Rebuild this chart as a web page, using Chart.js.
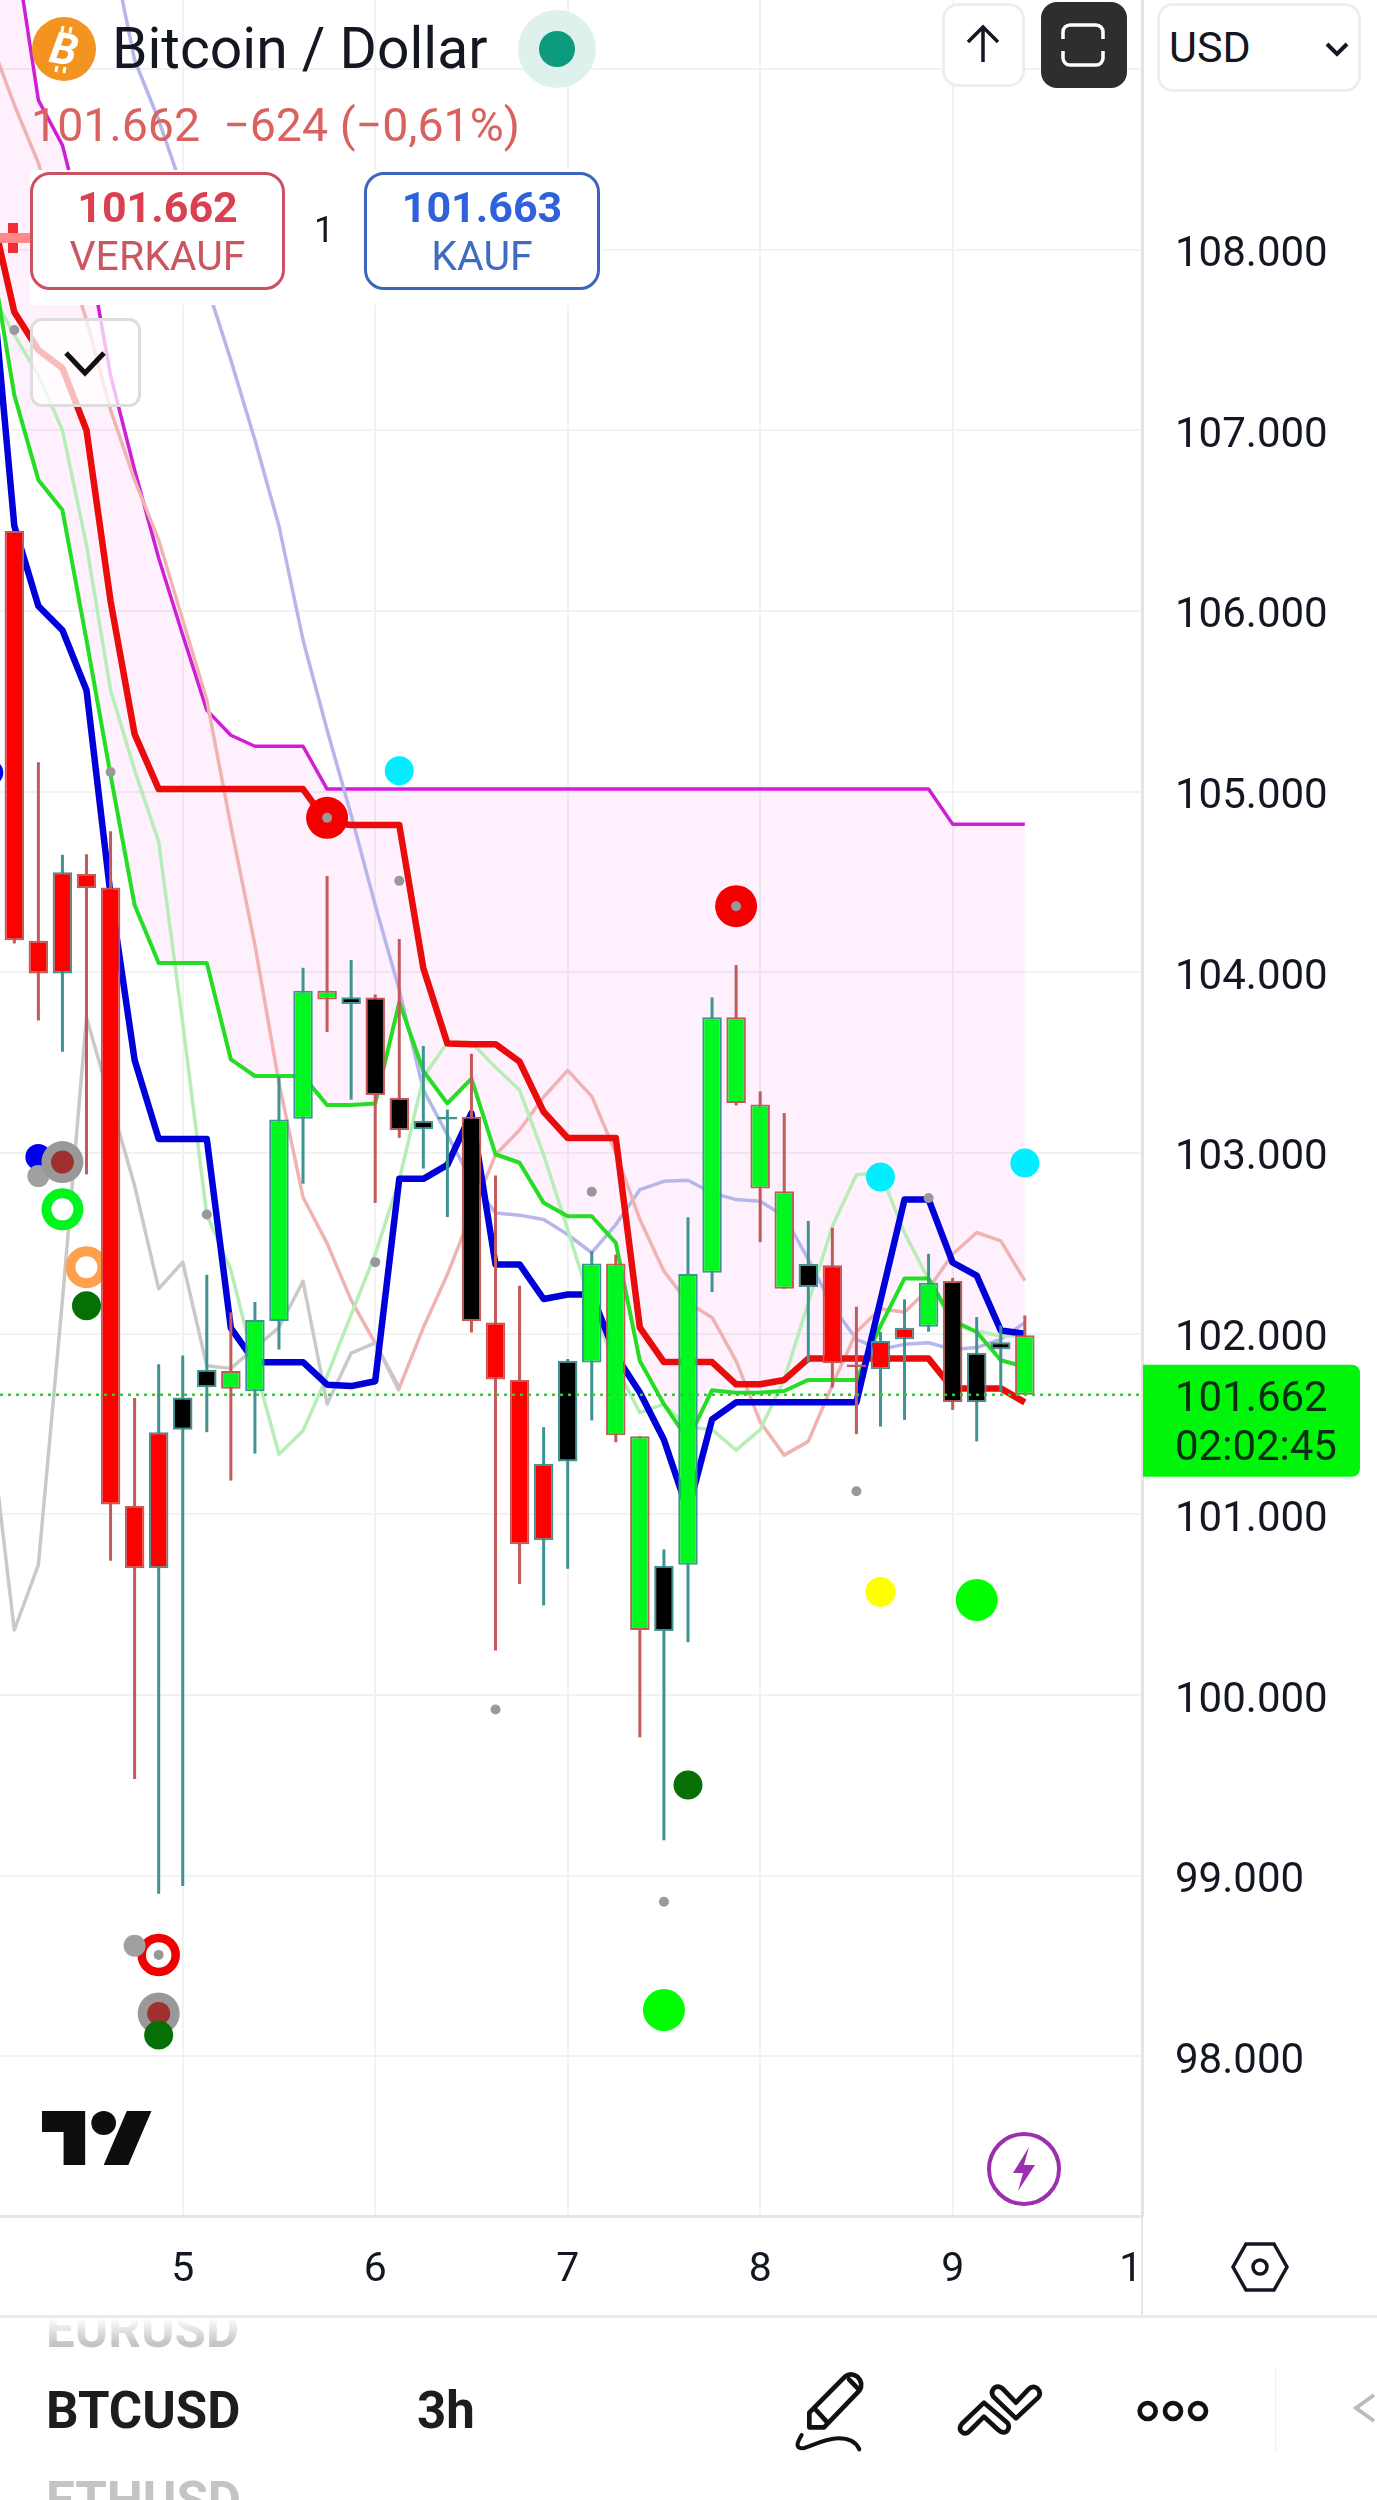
<!DOCTYPE html>
<html>
<head>
<meta charset="utf-8">
<title>Bitcoin / Dollar</title>
<script src="https://cdn.jsdelivr.net/npm/chart.js@4/dist/chart.umd.js"></script>
<style>
  html, body { margin: 0; padding: 0; background: #fff; }
  body { font-family: Roboto, sans-serif; color: #131722; }
  #page { position: relative; width: 1377px; height: 2500px; overflow: hidden; }
  #chart { position: absolute; left: 0; top: 0; }
  .abs { position: absolute; }
  .t { position: absolute; white-space: nowrap; line-height: 1; }
  .box { position: absolute; box-sizing: border-box; }
  .trade { background: #fff; border-radius: 20px; border: 3px solid; text-align: center; }
  .trade b { display: block; font-size: 43px; font-weight: 700; line-height: 1; margin-top: 11px; }
  .trade span { display: block; font-size: 41px; line-height: 1; margin-top: 7px; }
  .light { background: #fff; border: 3px solid #eeeeee; border-radius: 16px; }
</style>
</head>
<body>
<div id="page">
  <canvas id="chart" width="1377" height="2316"></canvas>

  <!-- header -->
  <svg class="abs" style="left:32px;top:17px" width="64" height="64" viewBox="0 0 64 64">
    <circle cx="32" cy="32" r="32" fill="#f39320"/>
    <text x="32" y="47" text-anchor="middle" font-family="Roboto" font-weight="700" font-style="italic" font-size="44" fill="#fff" transform="rotate(10 32 32)">B</text>
    <path d="M31 9l-1 6M39 10l-1 6M25 49l-1 6M33 50l-1 6" stroke="#fff" stroke-width="3"/>
  </svg>
  <div class="t" style="left:112px;top:20px;font-size:57px;color:#131722">Bitcoin / Dollar</div>
  <div class="box" style="left:518px;top:10px;width:78px;height:78px;border-radius:50%;background:#dff1ed"></div>
  <div class="box" style="left:539px;top:31px;width:36px;height:36px;border-radius:50%;background:#0d9b80"></div>
  <div class="t" style="left:31px;top:102px;font-size:46.5px;color:#d9625f;white-space:pre">101.662  −624 (−0,61%)</div>

  <div class="box" style="left:30px;top:170px;width:572px;height:135px;background:#fff"></div>
  <div class="box" style="left:8px;top:223px;width:10px;height:30px;background:#f03030"></div>
  <div class="box" style="left:0;top:233px;width:30px;height:10px;background:#f88"></div>
  <div class="box trade" style="left:30px;top:172px;width:255px;height:118px;border-color:#cc5060;color:#d94050">
    <b>101.662</b><span style="color:#cc5560">VERKAUF</span>
  </div>
  <div class="t" style="left:314px;top:212px;font-size:36px;color:#131722">1</div>
  <div class="box trade" style="left:364px;top:172px;width:236px;height:118px;border-color:#3b66bb;color:#2f62da">
    <b>101.663</b><span style="color:#3f6cc0">KAUF</span>
  </div>
  <div class="box" style="left:30px;top:318px;width:111px;height:89px;border:3px solid #dddddd;border-radius:12px;background:rgba(255,255,255,.72)"></div>
  <svg class="abs" style="left:60px;top:345px" width="50" height="36"><path d="M6 8l19 20 19-20" fill="none" stroke="#111" stroke-width="5"/></svg>

  <div class="box light" style="left:942px;top:3px;width:83px;height:84px"></div>
  <svg class="abs" style="left:960px;top:22px" width="46" height="44"><path d="M23 40V5M8 20L23 5l15 15" fill="none" stroke="#131722" stroke-width="3.5"/></svg>
  <div class="box" style="left:1041px;top:2px;width:86px;height:86px;border-radius:16px;background:#2e2e2e"></div>
  <svg class="abs" style="left:1060px;top:22px" width="46" height="46"><path d="M3 17V10a7 7 0 0 1 7-7h26a7 7 0 0 1 7 7v7M3 29v7a7 7 0 0 0 7 7h26a7 7 0 0 0 7-7v-7" fill="none" stroke="#fff" stroke-width="3.5"/></svg>
  <div class="box light" style="left:1157px;top:3px;width:204px;height:89px"></div>
  <div class="t" style="left:1169px;top:26px;font-size:43px;color:#131722">USD</div>
  <svg class="abs" style="left:1324px;top:40px" width="26" height="18"><path d="M3 4l10 10 10-10" fill="none" stroke="#131722" stroke-width="4"/></svg>

  <!-- chart badges -->
  <svg class="abs" style="left:42px;top:2099px" width="111" height="84" viewBox="0 0 36 28" preserveAspectRatio="none"><path fill="#0e0e0e" d="M14 22H7V11H0V4h14v18zM28 22h-8l7.5-18h8L28 22z"/><circle cx="20" cy="8" r="4" fill="#0e0e0e"/></svg>
  <svg class="abs" style="left:986px;top:2131px" width="76" height="76">
    <circle cx="38" cy="38" r="35" fill="#fff" stroke="#9c2fb0" stroke-width="4"/>
    <path d="M43 16L27 42h10l-5 18 17-26H38z" fill="#9c2fb0"/>
  </svg>

  <!-- axis corner -->
  <div class="box" style="left:1141px;top:2216px;width:2px;height:100px;background:#e6e6e6"></div>
  <svg class="abs" style="left:1230px;top:2240px" width="60" height="54"><path d="M16 4h28l13 23-13 23H16L3 27z" fill="none" stroke="#131722" stroke-width="3.5"/><circle cx="30" cy="27" r="7" fill="none" stroke="#131722" stroke-width="3.5"/></svg>

  <!-- footer -->
  <div class="box" style="left:0;top:2315px;width:1377px;height:185px;background:#fff;border-top:3px solid #ececec;overflow:hidden">
    <div class="t" style="left:46px;top:-14px;font-size:51px;font-weight:700;color:#c4c4c4">EURUSD</div>
    <div class="box" style="left:0;top:0;width:400px;height:26px;background:linear-gradient(#fff,rgba(255,255,255,0))"></div>
    <div class="t" style="left:46px;top:67px;font-size:51px;font-weight:700;color:#1d1d1d">BTCUSD</div>
    <div class="t" style="left:417px;top:67px;font-size:51px;font-weight:700;color:#1d1d1d">3h</div>
    <div class="t" style="left:46px;top:157px;font-size:51px;font-weight:700;color:#c4c4c4">ETHUSD</div>
    <div class="box" style="left:1275px;top:50px;width:1px;height:85px;background:#eeeeee"></div>
  </div>
  <svg class="abs" style="left:780px;top:2350px" width="460" height="120" viewBox="0 0 1380 360" fill="none" stroke="#111" stroke-width="14" stroke-linejoin="round" stroke-linecap="round">
    <path d="M88 188L195 80Q212 66 232 80Q252 100 238 122L132 232H88Z"/>
    <path d="M108 180L140 215M207 88L236 118"/>
    <path stroke-width="12" d="M65 255C50 280 45 295 70 295C100 285 140 265 175 265C210 265 230 280 238 298"/>
    <path d="M612 158L545 222Q532 240 552 250Q562 252 572 240L612 200L655 240Q668 252 680 244Q692 232 682 218Z"/>
    <path d="M640 140Q630 125 645 112Q658 105 670 118L708 158L745 118Q758 105 772 115Q785 128 775 142L708 205Z"/>
    <circle cx="1103" cy="183" r="24"/><circle cx="1179" cy="183" r="24"/><circle cx="1254" cy="183" r="24"/>
  </svg>
  <svg class="abs" style="left:1350px;top:2392px" width="27" height="32"><path d="M24 3L6 16l18 13" fill="none" stroke="#bbbbbb" stroke-width="4"/></svg>
</div>

<script>
// Bars are 3h candles, counted from the first visible one (0) to the live one (42).
const opens = [106442,104174,103994,104544,104470,101046,100702,101469,101704,101794,101681,102070,103189,103898,103824,103860,103306,103132,103185,103200,102062,101743,100857,101292,101840,102389,101433,100355,100721,102337,103751,103269,102788,102258,102379,101830,101803,101969,102039,102291,101620,101914,101991];
const highs = [106442,105162,104650,104654,104781,101644,101831,101879,102326,102118,102175,103422,104025,104533,104068,103877,104184,103592,103240,103549,102876,102265,101483,101860,102457,102438,101433,100806,102645,103860,104040,103341,103221,102624,102586,102149,102010,102190,102442,102309,102092,102046,102101];
const lows = [104160,103733,103560,102883,100744,99536,98901,98943,101455,101187,101337,101912,102830,103670,103295,102724,103084,102914,102646,102006,100247,100614,100496,100699,101520,101399,99767,99197,100292,102230,103263,102506,102249,101840,101702,101444,101486,101523,102011,101578,101404,101679,101662];
const closes = [104178,103994,104554,104466,101054,100702,101455,101647,101800,101695,102076,103185,103898,103850,103862,103321,103126,103179,103200,102070,101746,100834,101280,101850,102389,101438,100360,100716,102330,103751,103276,102803,102249,102385,101836,101815,101960,102033,102282,101620,101894,101952,101662];
// body colour state from the indicator script
const bodyStates = ['sell','sell','sell','sell','sell','sell','sell','flat','flat','buy','buy','buy','buy','buy','flat','flat','flat','flat','buy','flat','sell','sell','sell','flat','buy','buy','buy','flat','buy','buy','buy','buy','buy','flat','sell','sell','sell','sell','buy','flat','flat','flat','buy'];

// Indicator lines start one bar earlier, at bar -1, which is just off the left edge.
const upperBand = [110598,109700,108827,108578,108052,107305,106780,106293,105867,105451,105312,105251,105251,105251,105014,105014,105014,105014,105014,105014,105014,105014,105014,105014,105014,105014,105014,105014,105014,105014,105014,105014,105014,105014,105014,105014,105014,105014,105014,105014,104820,104820,104820,104820];
const slowLine = [108241,107654,107444,107344,107000,106055,105318,105014,105014,105014,105014,105014,105014,105014,104830,104815,104815,104815,104023,103606,103602,103602,103505,103228,103083,103083,103083,102033,101843,101843,101843,101720,101720,101744,101862,101862,101862,101862,101862,101862,101697,101697,101697,101620];
const fastLine = [107942,106470,106027,105893,105561,104428,103515,103078,103078,103078,102031,101842,101842,101842,101718,101710,101737,102857,102857,102934,103220,102383,102383,102192,102217,102217,101879,101675,101413,101018,101526,101620,101620,101620,101620,101620,101620,102183,102743,102743,102394,102321,102018,102000];
const lowerBand = [108000,107195,106725,106558,105838,105091,104372,104052,104052,104052,103518,103426,103426,103426,103265,103265,103274,103835,103454,103274,103412,102993,102946,102724,102650,102650,102503,101849,101610,101413,101687,101673,101674,101683,101744,101744,101744,102042,102306,102306,102073,102009,101853,101817];
const lightGreenLine = [107776,107527,107305,107000,106364,105562,105119,104723,103718,102657,102353,101822,101333,101463,101766,102105,102440,102850,103420,103612,103612,103475,103348,102990,102576,102150,101822,101563,101610,101484,101469,101356,101469,101748,102171,102595,102880,102890,102558,102300,102052,102015,101987,101990];
const salmonLine = [109160,108800,108479,108025,107610,107112,106725,106392,105950,105507,104810,104152,103388,102755,102500,102186,101948,101700,102034,102328,102665,102990,103127,103310,103457,103313,103000,102632,102346,102171,102090,101850,101512,101328,101404,101716,102009,102138,102119,102248,102440,102560,102514,102294];
const lavenderLine = [null,null,null,null,null,109700,109049,108717,108329,107803,107388,106946,106470,105839,105341,104870,104372,103902,103349,103100,102850,102668,102656,102632,102549,102448,102604,102797,102843,102849,102779,102742,102733,102650,102411,102153,101969,101913,101941,101950,101913,101923,101969,102061];
const grayLine = [101489,100360,100721,102186,103750,103285,102819,102248,102396,101822,101808,101921,102034,102290,101611,101893,101949,101681,null,null,null,null,null,null,null,null,null,null,null,null,null,null,null,null,null,null,null,null,null,null,null,null,null,null];

// Signal dots as [bar, price]
const smallGrayDots = [[0,107555],[4,105109],[8,102660],[13,104855],[15,102396],[16,104506],[24,102786],[30,104366],[38,102751],[35,101128],[20,99920],[27,98856],[6,98562]];
const darkGreenDots = [[3,102155],[28,99502],[6,98119]];
const brownDots = [[2,102950],[6,98238]];
const grayHalos = [[2,102950],[6,98238]];
const midGrayDots = [[1,102872],[5,98613]];
const redDots = [[13,104855],[30,104366]];
const redRings = [[6,98562]];
const limeRings = [[2,102688]];
const orangeRings = [[3,102368]];
const blueDots = [[-1,105105],[1,102978]];
const cyanDots = [[16,105115],[36,102867],[42,102945]];
const yellowDots = [[36,100571]];
const limeDots = [[40,100526],[27,98257]];

const lastPrice = 101662;
const lastPriceText = '101.662';
const countdownText = '02:02:45';

const priceTicks = [98000,99000,100000,101000,102000,103000,104000,105000,106000,107000,108000,109000];
const priceTickLabels = ['98.000','99.000','100.000','101.000','102.000','103.000','104.000','105.000','106.000','107.000','108.000',''];
// the last day label is cut by the price axis, only its first digit shows
const dayTicks = [7,15,23,31,39,46.4];
const dayTickLabels = ['5','6','7','8','9','1'];

const xMin = -0.595, xMax = 46.87, yMin = 97117, yMax = 109381;
const gridColor = '#f1f2f3';
const axisLineColor = '#e4e4e4';
const upColor = '#3f9391';
const downColor = '#c25a5a';
const bodyColors = { sell: '#ff0000', flat: '#000000', buy: '#00f820' };

const candleIdx = opens.map((_, i) => i);
const edgeColor = candleIdx.map(i => closes[i] >= opens[i] ? upColor : downColor);

function linePoints(values) {
  return values.map((v, i) => ({ x: i - 1, y: v }));
}
function lineSet(values, color, width, order, extra) {
  return Object.assign({
    type: 'line', data: linePoints(values), borderColor: color, borderWidth: width,
    pointRadius: 0, tension: 0, fill: false, order: order, borderJoinStyle: 'round',
    borderCapStyle: 'butt', spanGaps: false
  }, extra || {});
}
function dotSet(points, color, radius, order, ring) {
  return {
    type: 'line', showLine: false, order: order,
    data: points.map(p => ({ x: p[0], y: p[1] })),
    pointRadius: radius, pointHoverRadius: radius,
    pointBackgroundColor: ring ? '#ffffff' : color,
    pointBorderColor: color,
    pointBorderWidth: ring || 0
  };
}

const priceTag = {
  id: 'priceTag',
  afterDraw(chart) {
    const ctx = chart.ctx;
    const area = chart.chartArea;
    const py = chart.scales.y.getPixelForValue(lastPrice);
    ctx.save();
    ctx.fillStyle = '#00f50a';
    ctx.beginPath();
    ctx.roundRect(area.right + 1, py - 30, 217, 112, [0, 8, 8, 0]);
    ctx.fill();
    ctx.font = '42px Roboto';
    ctx.textBaseline = 'middle';
    ctx.fillStyle = '#0b2e10';
    ctx.fillText(lastPriceText, area.right + 33, py + 6);
    ctx.fillText(countdownText, area.right + 33, py + 55);
    ctx.restore();
  }
};

const datasets = [
  // index 0: the upper band, filled down to the lower band at index 1
  lineSet(upperBand, '#cf1fd6', 3.5, 60, { fill: { target: 1, above: 'rgba(230,0,220,0.055)', below: 'rgba(230,0,220,0.055)' } }),
  lineSet(lowerBand, '#25dd25', 4, 52),
  lineSet(lavenderLine, '#b6b6ea', 3.5, 58),
  lineSet(salmonLine, '#f1b2b2', 3.5, 57),
  lineSet(lightGreenLine, '#b7edb7', 3.5, 56),
  lineSet(grayLine, '#c9c9c9', 3.5, 55),
  lineSet(slowLine, '#e90c0c', 6.5, 51),
  lineSet(fastLine, '#0000d8', 6.5, 50),

  dotSet(smallGrayDots, '#999999', 5, 10),
  dotSet(darkGreenDots, '#067006', 14.5, 11),
  dotSet(brownDots, '#a03030', 11.5, 12),
  dotSet(grayHalos, '#999999', 21, 13),
  dotSet(midGrayDots, '#a0a0a0', 11, 14),
  dotSet(redDots, '#f50000', 21, 15),
  dotSet(redRings, '#f00000', 17, 16, 8.5),
  dotSet(limeRings, '#00f51e', 16, 17, 10),
  dotSet(orangeRings, '#ffa04d', 16, 18, 10),
  dotSet(blueDots, '#0000f0', 13, 19),
  dotSet(cyanDots, '#00eeff', 14.5, 20),
  dotSet(yellowDots, '#ffff00', 15, 21),
  dotSet(limeDots, '#00ff00', 21, 22),

  {
    type: 'bar', order: 3, grouped: false, barThickness: 3, inflateAmount: 0,
    data: candleIdx.map(i => ({ x: i, y: [lows[i], highs[i]] })),
    backgroundColor: edgeColor, borderWidth: 0
  },
  {
    type: 'bar', order: 2, grouped: false, barThickness: 19.5, inflateAmount: 0,
    data: candleIdx.map(i => ({ x: i, y: [Math.min(opens[i], closes[i]), Math.max(opens[i], closes[i])] })),
    backgroundColor: candleIdx.map(i => bodyColors[bodyStates[i]]),
    borderColor: edgeColor, borderWidth: 2, borderSkipped: false
  },

  {
    type: 'line', order: 1, pointRadius: 0, borderColor: '#35c935', borderWidth: 2.5, borderDash: [3, 5],
    data: [{ x: xMin, y: lastPrice }, { x: xMax, y: lastPrice }]
  }
];

new Chart(document.getElementById('chart').getContext('2d'), {
  data: { datasets: datasets },
  plugins: [priceTag],
  options: {
    responsive: false,
    animation: false,
    events: [],
    layout: { padding: 0, autoPadding: false },
    plugins: { legend: { display: false }, tooltip: { enabled: false } },
    scales: {
      x: {
        type: 'linear', bounds: 'data', min: xMin, max: xMax, offset: false,
        grid: {
          offset: false, lineWidth: 2, drawTicks: false,
          color: c => (c.tick && c.tick.value > xMax - 1) ? 'transparent' : gridColor
        },
        border: { display: true, color: axisLineColor, width: 3 },
        afterBuildTicks(scale) { scale.ticks = dayTicks.map(v => ({ value: v })); },
        afterFit(scale) { scale.height = 100; scale.paddingLeft = 0; scale.paddingRight = 0; },
        ticks: {
          autoSkip: false, maxRotation: 0, padding: 30, color: '#131722',
          font: { family: 'Roboto', size: 41 },
          callback: v => dayTickLabels[dayTicks.indexOf(v)]
        }
      },
      y: {
        type: 'linear', position: 'right', bounds: 'data', min: yMin, max: yMax,
        grid: { color: gridColor, lineWidth: 2, drawTicks: false },
        border: { display: true, color: axisLineColor, width: 3 },
        afterBuildTicks(scale) { scale.ticks = priceTicks.map(v => ({ value: v })); },
        afterFit(scale) { scale.width = 235; scale.paddingTop = 0; scale.paddingBottom = 0; },
        ticks: {
          autoSkip: false, padding: 33, labelOffset: 6, color: '#131722',
          font: { family: 'Roboto', size: 42 },
          callback: v => priceTickLabels[priceTicks.indexOf(v)]
        }
      }
    }
  }
});
</script>
</body>
</html>
